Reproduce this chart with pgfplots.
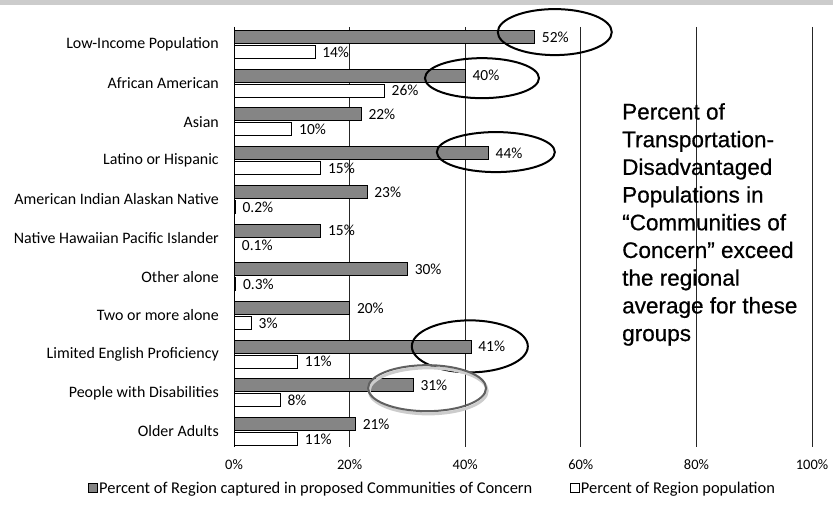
\documentclass[border=0pt]{standalone}
\usepackage{pgfplots}
\pgfplotsset{compat=1.18}
\usepackage{fontspec}
\setmainfont{Carlito}
\newfontfamily\headfont[FakeBold=0.6]{Liberation Sans}
\definecolor{bargrey}{HTML}{858585}
\begin{document}
\begin{tikzpicture}[x=1bp,y=1bp]
\useasboundingbox (0,0) rectangle (833,507);
\fill[gray!40] (0,502) rectangle (833,507);
\begin{axis}[
  at={(234bp,60bp)}, anchor=south west,
  scale only axis, width=578bp, height=420bp,
  xbar, bar width=13bp,
  xmin=0, xmax=100, ymin=-0.452, ymax=10.4, y dir=reverse,
  ytick={0,...,10},
  yticklabels={Low-Income Population,African American,Asian,Latino or Hispanic,American Indian Alaskan Native,Native Hawaiian Pacific Islander,Other alone,Two or more alone,Limited English Proficiency,People with Disabilities,Older Adults},
  xtick={0,20,...,100},
  xticklabel={\pgfmathprintnumber[assume math mode=true]{\tick}\%},
  major tick length=0pt,
  xmajorgrids, grid style={black!85, line width=0.7bp},
  axis x line*=bottom, x axis line style={draw=none},
  axis y line*=left, y axis line style={black, line width=0.8bp},
  yticklabel style={font=\fontsize{16}{18}\selectfont, anchor=east, inner sep=0pt, xshift=-15bp},
  xticklabel style={font=\fontsize{14.5}{17}\selectfont, inner sep=0pt, yshift=-12bp},
  clip=false,
  point meta=x,
  nodes near coords={\pgfmathprintnumber[assume math mode=true]{\pgfplotspointmeta}\%},
  nodes near coords style={font=\fontsize{15.5}{18}\selectfont, anchor=west, inner sep=0pt, xshift=7bp},
  legend style={at={(0.343,-0.098)}, anchor=center, draw=none, legend columns=2,
    font=\fontsize{16.5}{18}\selectfont, /tikz/every even column/.append style={column sep=36bp},
    inner sep=0pt, nodes={inner xsep=1.5bp}},
]
\addplot[fill=bargrey, draw=black, line width=0.8bp, bar shift=7.5bp,
  legend image code/.code={\draw[fill=bargrey,draw=black,line width=0.6bp] (0bp,-4.5bp) rectangle (9bp,4.5bp);}]
  coordinates {(52,0) (40,1) (22,2) (44,3) (23,4) (15,5) (30,6) (20,7) (41,8) (31,9) (21,10)};
\addplot[fill=white, draw=black, line width=0.8bp, bar shift=-7.5bp,
  legend image code/.code={\draw[fill=white,draw=black,line width=0.6bp] (0bp,-4.5bp) rectangle (9bp,4.5bp);}]
  coordinates {(14,0) (26,1) (10,2) (15,3) (0.2,4) (0.1,5) (0.3,6) (3,7) (11,8) (8,9) (11,10)};
\legend{Percent of Region captured in proposed Communities of Concern, Percent of Region population}
\draw[line width=2bp] (axis cs:55.5,-0.32) ellipse [x radius=57bp, y radius=23bp];
\draw[line width=2bp] (axis cs:42.9,0.87) ellipse [x radius=57bp, y radius=20bp];
\draw[line width=2bp] (axis cs:45.3,2.78) ellipse [x radius=59bp, y radius=20bp];
\draw[line width=2bp] (axis cs:40.8,7.8) ellipse [x radius=58bp, y radius=26bp];
\draw[gray!40, line width=3bp] (axis cs:33.6,8.95) ellipse [x radius=59bp, y radius=23bp];
\draw[gray!75!black, line width=2bp] (axis cs:33.4,8.88) ellipse [x radius=59bp, y radius=23bp];
\end{axis}
\node[anchor=north west, inner sep=0pt, align=left, font=\headfont\fontsize{22.6}{27.8}\selectfont] at (622,404)
  {Percent of\\Transportation-\\Disadvantaged\\Populations in\\“Communities of\\Concern” exceed\\the regional\\average for these\\groups};
\end{tikzpicture}
\end{document}
